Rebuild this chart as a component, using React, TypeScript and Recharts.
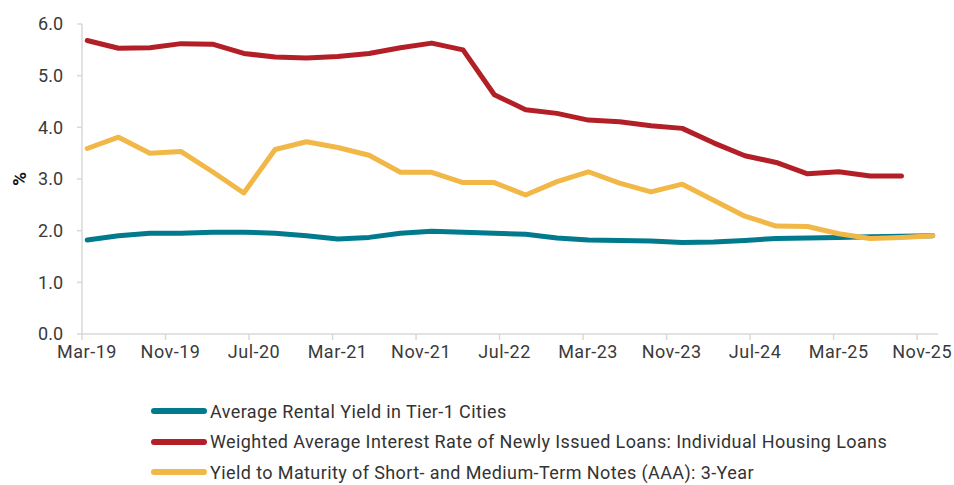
import { LineChart, Line, XAxis, YAxis, Legend } from 'recharts'

const FONT = 'Roboto, "Noto Sans", sans-serif'

const quarters = [
  'Mar-19', 'Jun-19', 'Sep-19', 'Dec-19',
  'Mar-20', 'Jun-20', 'Sep-20', 'Dec-20',
  'Mar-21', 'Jun-21', 'Sep-21', 'Dec-21',
  'Mar-22', 'Jun-22', 'Sep-22', 'Dec-22',
  'Mar-23', 'Jun-23', 'Sep-23', 'Dec-23',
  'Mar-24', 'Jun-24', 'Sep-24', 'Dec-24',
  'Mar-25', 'Jun-25', 'Sep-25', 'Dec-25',
]

const rentalYield = [
  1.82, 1.90, 1.95, 1.95, 1.97, 1.97, 1.95, 1.90, 1.84, 1.87, 1.95, 1.99, 1.97, 1.95,
  1.93, 1.86, 1.82, 1.81, 1.80, 1.77, 1.78, 1.81, 1.85, 1.86, 1.87, 1.88, 1.89, 1.90,
]
const mortgageRate = [
  5.68, 5.53, 5.54, 5.62, 5.61, 5.43, 5.36, 5.34, 5.37, 5.43, 5.54, 5.63, 5.50, 4.63,
  4.34, 4.27, 4.14, 4.11, 4.03, 3.98, 3.70, 3.45, 3.32, 3.10, 3.14, 3.06, 3.06,
]
const mtnYield = [
  3.59, 3.81, 3.50, 3.53, 3.14, 2.73, 3.57, 3.72, 3.61, 3.46, 3.13, 3.13, 2.93, 2.93,
  2.69, 2.95, 3.14, 2.92, 2.75, 2.90, 2.59, 2.28, 2.09, 2.08, 1.94, 1.85, 1.87, 1.90,
]

const tickLabels = ['Mar-19', 'Nov-19', 'Jul-20', 'Mar-21', 'Nov-21', 'Jul-22', 'Mar-23', 'Nov-23', 'Jul-24', 'Mar-25', 'Nov-25']
const yTicks = [0, 1, 2, 3, 4, 5, 6]

const series = [
  { key: 'rental', name: 'Average Rental Yield in Tier-1 Cities', color: '#007a8c' },
  { key: 'mortgage', name: 'Weighted Average Interest Rate of Newly Issued Loans: Individual Housing Loans', color: '#b31f27' },
  { key: 'mtn', name: 'Yield to Maturity of Short- and Medium-Term Notes (AAA): 3-Year', color: '#f1b847' },
]

const MONTHS = ['Jan', 'Feb', 'Mar', 'Apr', 'May', 'Jun', 'Jul', 'Aug', 'Sep', 'Oct', 'Nov', 'Dec']

// months since Mar-2019
const monthIndex = (label: string) => {
  const [m, y] = label.split('-')
  return (Number(y) - 19) * 12 + MONTHS.indexOf(m) - 2
}
const monthLabel = (idx: number) => {
  const total = idx + 2
  const y = 19 + Math.floor(total / 12)
  return `${MONTHS[total % 12]}-${y}`
}

// quarter-end values sit just past the first of the month
const data = quarters.map((q, i) => ({
  t: monthIndex(q) + 0.5,
  rental: rentalYield[i],
  mortgage: mortgageRate[i],
  mtn: mtnYield[i],
}))

const xTicks = tickLabels.map(monthIndex)

const LegendList = () => (
  <div style={{ fontFamily: FONT, fontSize: 18, letterSpacing: 0.4, color: '#333' }}>
    {series.map(s => (
      <div key={s.key} style={{ display: 'flex', alignItems: 'center', height: 30.5, whiteSpace: 'nowrap' }}>
        <span style={{ display: 'inline-block', width: 56, height: 6, borderRadius: 3, background: s.color, marginRight: 3 }} />
        <span>{s.name}</span>
      </div>
    ))}
  </div>
)

export default function App() {
  return (
    <div style={{ position: 'absolute', left: 0, top: 0, background: '#fff' }}>
      <LineChart width={954} height={485} data={data} margin={{ top: 24, right: 16, left: 0, bottom: 121 }}>
        <XAxis
          dataKey="t"
          type="number"
          domain={[0, 82]}
          ticks={xTicks}
          tickFormatter={monthLabel}
          interval={0}
          stroke="#d9d9d9"
          strokeWidth={1.5}
          tickSize={6}
          tickMargin={5}
          height={30}
          tick={{ fill: '#3a3a3a', fontSize: 18, fontFamily: FONT, dx: 5, letterSpacing: 0.5 }}
        />
        <YAxis
          domain={[0, 6]}
          ticks={yTicks}
          tickFormatter={(v: number) => v.toFixed(1)}
          width={82}
          stroke="#d9d9d9"
          strokeWidth={1.5}
          tickSize={5}
          tickMargin={14}
          tick={{ fill: '#3a3a3a', fontSize: 18, fontFamily: FONT }}
          label={({ viewBox }: any) => (
            <text
              x={viewBox.x + 19}
              y={viewBox.y + viewBox.height / 2}
              transform={`rotate(-90 ${viewBox.x + 19} ${viewBox.y + viewBox.height / 2})`}
              textAnchor="middle"
              dominantBaseline="central"
              fontFamily={FONT}
              fontSize={19}
              fontWeight="bold"
              fill="#111"
            >
              %
            </text>
          )}
        />
        {series.map(s => (
          <Line
            key={s.key}
            dataKey={s.key}
            name={s.name}
            stroke={s.color}
            strokeWidth={5}
            strokeLinecap="round"
            strokeLinejoin="round"
            dot={false}
            activeDot={false}
            type="linear"
            isAnimationActive={false}
          />
        ))}
        <Legend
          layout="horizontal"
          verticalAlign="middle"
          content={<LegendList />}
          wrapperStyle={{ left: 151, top: 396, width: 780, height: 92 }}
        />
      </LineChart>
    </div>
  )
}
